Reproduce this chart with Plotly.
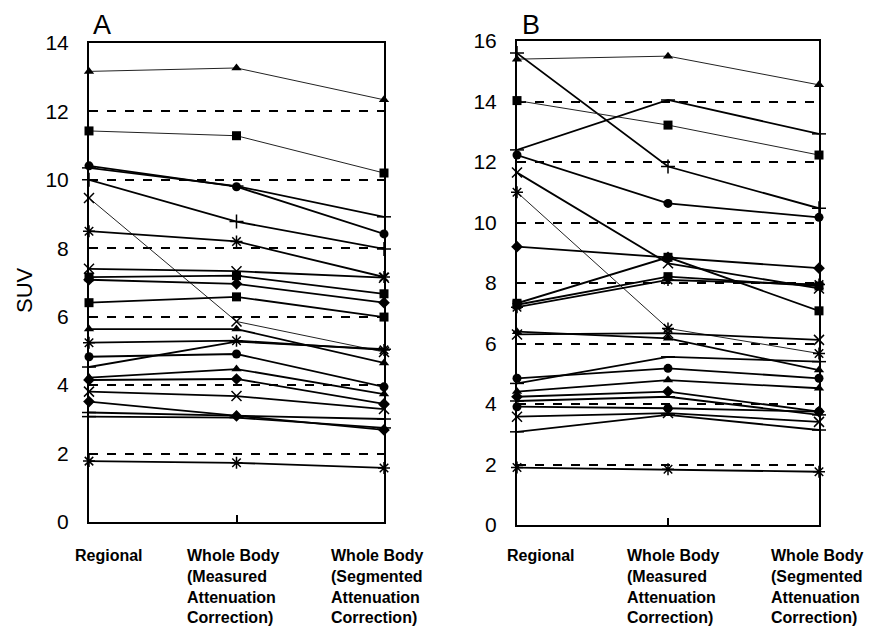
import plotly.graph_objects as go

# ---------------- data ----------------
CATEGORIES = ["Regional",
              "Whole Body<br>(Measured<br>Attenuation<br>Correction)",
              "Whole Body<br>(Segmented<br>Attenuation<br>Correction)"]
X_POS = [0, 1, 2]

A_TICKS = [0, 2, 4, 6, 8, 10, 12, 14]
B_TICKS = [0, 2, 4, 6, 8, 10, 12, 14, 16]

# Panel A: SUV per patient (Regional, WB measured AC, WB segmented AC)
A_VALUES = [
    [13.17, 13.27, 12.34],
    [11.43, 11.29, 10.20],
    [10.41, 9.80, 8.42],
    [10.35, 9.82, 8.92],
    [10.00, 8.78, 7.98],
    [9.47, 5.86, 4.97],
    [8.50, 8.20, 7.16],
    [7.40, 7.33, 7.14],
    [7.16, 7.20, 6.67],
    [7.08, 6.96, 6.41],
    [6.41, 6.58, 5.99],
    [5.64, 5.64, 4.65],
    [5.24, 5.30, 5.03],
    [4.83, 4.91, 3.95],
    [4.53, 5.27, 5.05],
    [4.22, 4.47, 3.74],
    [4.15, 4.18, 3.45],
    [3.81, 3.68, 3.30],
    [3.52, 3.10, 2.69],
    [3.20, 3.10, 3.01],
    [3.08, 3.05, 2.75],
    [1.78, 1.73, 1.58],
]
A_SYMBOLS = ["triangle-up", "square", "circle", "line-ew-open", "cross-thin-open",
             "x-thin-open", "asterisk-open", "x-thin-open", "square", "diamond",
             "square", "triangle-up", "asterisk-open", "circle", "line-ew-open",
             "triangle-up", "diamond", "x-thin-open", "diamond", "line-ew-open",
             "line-ew-open", "asterisk-open"]
A_THIN = [True, True, False, False, False, True, False, False, False, False,
          False, False, False, False, False, False, False, False, False, False,
          False, False]

# Panel B
B_VALUES = [
    [15.40, 15.50, 14.55],
    [15.60, 11.85, 10.47],
    [14.03, 13.22, 12.23],
    [12.40, 14.05, 12.93],
    [12.23, 10.63, 10.17],
    [11.65, 8.65, 7.82],
    [11.00, 6.50, 5.67],
    [9.20, 8.85, 8.49],
    [7.33, 8.85, 7.08],
    [7.28, 8.21, 7.90],
    [7.20, 8.10, 7.95],
    [6.39, 6.17, 5.12],
    [6.30, 6.34, 6.12],
    [4.68, 5.56, 5.40],
    [4.85, 5.18, 4.85],
    [4.41, 4.79, 4.52],
    [4.24, 4.41, 3.75],
    [3.91, 3.86, 3.75],
    [4.10, 4.24, 3.64],
    [3.58, 3.70, 3.41],
    [3.08, 3.64, 3.14],
    [1.90, 1.84, 1.76],
]
B_SYMBOLS = ["triangle-up", "cross-thin-open", "square", "line-ew-open", "circle",
             "x-thin-open", "asterisk-open", "diamond", "square", "square",
             "asterisk-open", "triangle-up", "x-thin-open", "line-ew-open", "circle",
             "triangle-up", "diamond", "circle", "line-ew-open", "x-thin-open",
             "line-ew-open", "asterisk-open"]
B_THIN = [True, False, True, False, False, False, True, False, False, False,
          False, False, False, False, False, False, False, False, False, False,
          False, False]

# ---------------- figure ----------------
W, H = 873, 631
OFF = 8  # page body margin


def px(x):
    return (x - OFF) / W


def py(y):
    return 1 - (y - OFF) / H


fig = go.Figure()


def add_panel(values, symbols, thin, xa, ya):
    for vals, sym, th in zip(values, symbols, thin):
        is_open = sym.endswith("-open")
        fig.add_trace(go.Scatter(
            x=X_POS, y=vals, mode="lines+markers", xaxis=xa, yaxis=ya,
            cliponaxis=False, showlegend=False,
            line=dict(color="#222" if th else "black", width=1 if th else 1.8),
            marker=dict(symbol=sym, size=9 if not is_open else 10, color="black",
                        line=dict(color="black", width=1.5 if is_open else 0)),
        ))


add_panel(A_VALUES, A_SYMBOLS, A_THIN, "x", "y")
add_panel(B_VALUES, B_SYMBOLS, B_THIN, "x2", "y2")

FONT = "Liberation Sans, Arial, sans-serif"


def xaxis_cfg(domain, anchor):
    return dict(domain=domain, range=[0, 2], anchor=anchor, showgrid=False,
                zeroline=False, automargin=False,
                showline=True, linecolor="black", linewidth=2, mirror=True,
                tickvals=X_POS, ticks="inside", ticklen=7, tickwidth=2,
                tickcolor="black", showticklabels=False)


def yaxis_cfg(domain, rng, ticks, anchor):
    return dict(domain=domain, range=rng, anchor=anchor, tickvals=ticks,
                ticktext=[str(t) for t in ticks], showgrid=True, automargin=False,
                gridcolor="black", gridwidth=1.5, griddash="dash",
                zeroline=False, showline=True, linecolor="black", linewidth=2,
                mirror=True, ticks="", ticklabelstandoff=14,
                tickfont=dict(family=FONT, size=21, color="black"))


fig.update_layout(
    width=W, height=H,
    margin=dict(l=0, r=0, t=0, b=0, pad=0, autoexpand=False),
    paper_bgcolor="white", plot_bgcolor="white",
    xaxis=xaxis_cfg([px(89), px(384)], "y"),
    yaxis=yaxis_cfg([py(522), py(43)], [0, 14], A_TICKS, "x"),
    xaxis2=xaxis_cfg([px(517), px(819)], "y2"),
    yaxis2=yaxis_cfg([py(525), py(41)], [0, 16], B_TICKS, "x2"),
)

ann = []
ann.append(dict(text="SUV", x=px(25), y=py(290), xref="paper", yref="paper",
                xanchor="center", yanchor="middle",
                textangle=-90, showarrow=False,
                font=dict(family=FONT, size=22, color="black")))
ann.append(dict(text="A", x=px(102), y=py(9), xref="paper", yref="paper",
                xanchor="center", yanchor="top", borderpad=0,
                showarrow=False, font=dict(family=FONT, size=27, color="black")))
ann.append(dict(text="B", x=px(531), y=py(9), xref="paper", yref="paper",
                xanchor="center", yanchor="top", borderpad=0,
                showarrow=False, font=dict(family=FONT, size=27, color="black")))

LABEL_LEFTS_A = [73, 185, 329]
LABEL_LEFTS_B = [505, 625, 769]
for lefts in (LABEL_LEFTS_A, LABEL_LEFTS_B):
    for cat, lx in zip(CATEGORIES, lefts):
        ann.append(dict(text="<b>" + cat + "</b>", x=px(lx), y=py(545),
                        xref="paper", yref="paper", xanchor="left", yanchor="top",
                        align="left", showarrow=False,
                        font=dict(family=FONT, size=16, color="black")))
fig.update_layout(annotations=ann)

fig.write_html("out.html")
